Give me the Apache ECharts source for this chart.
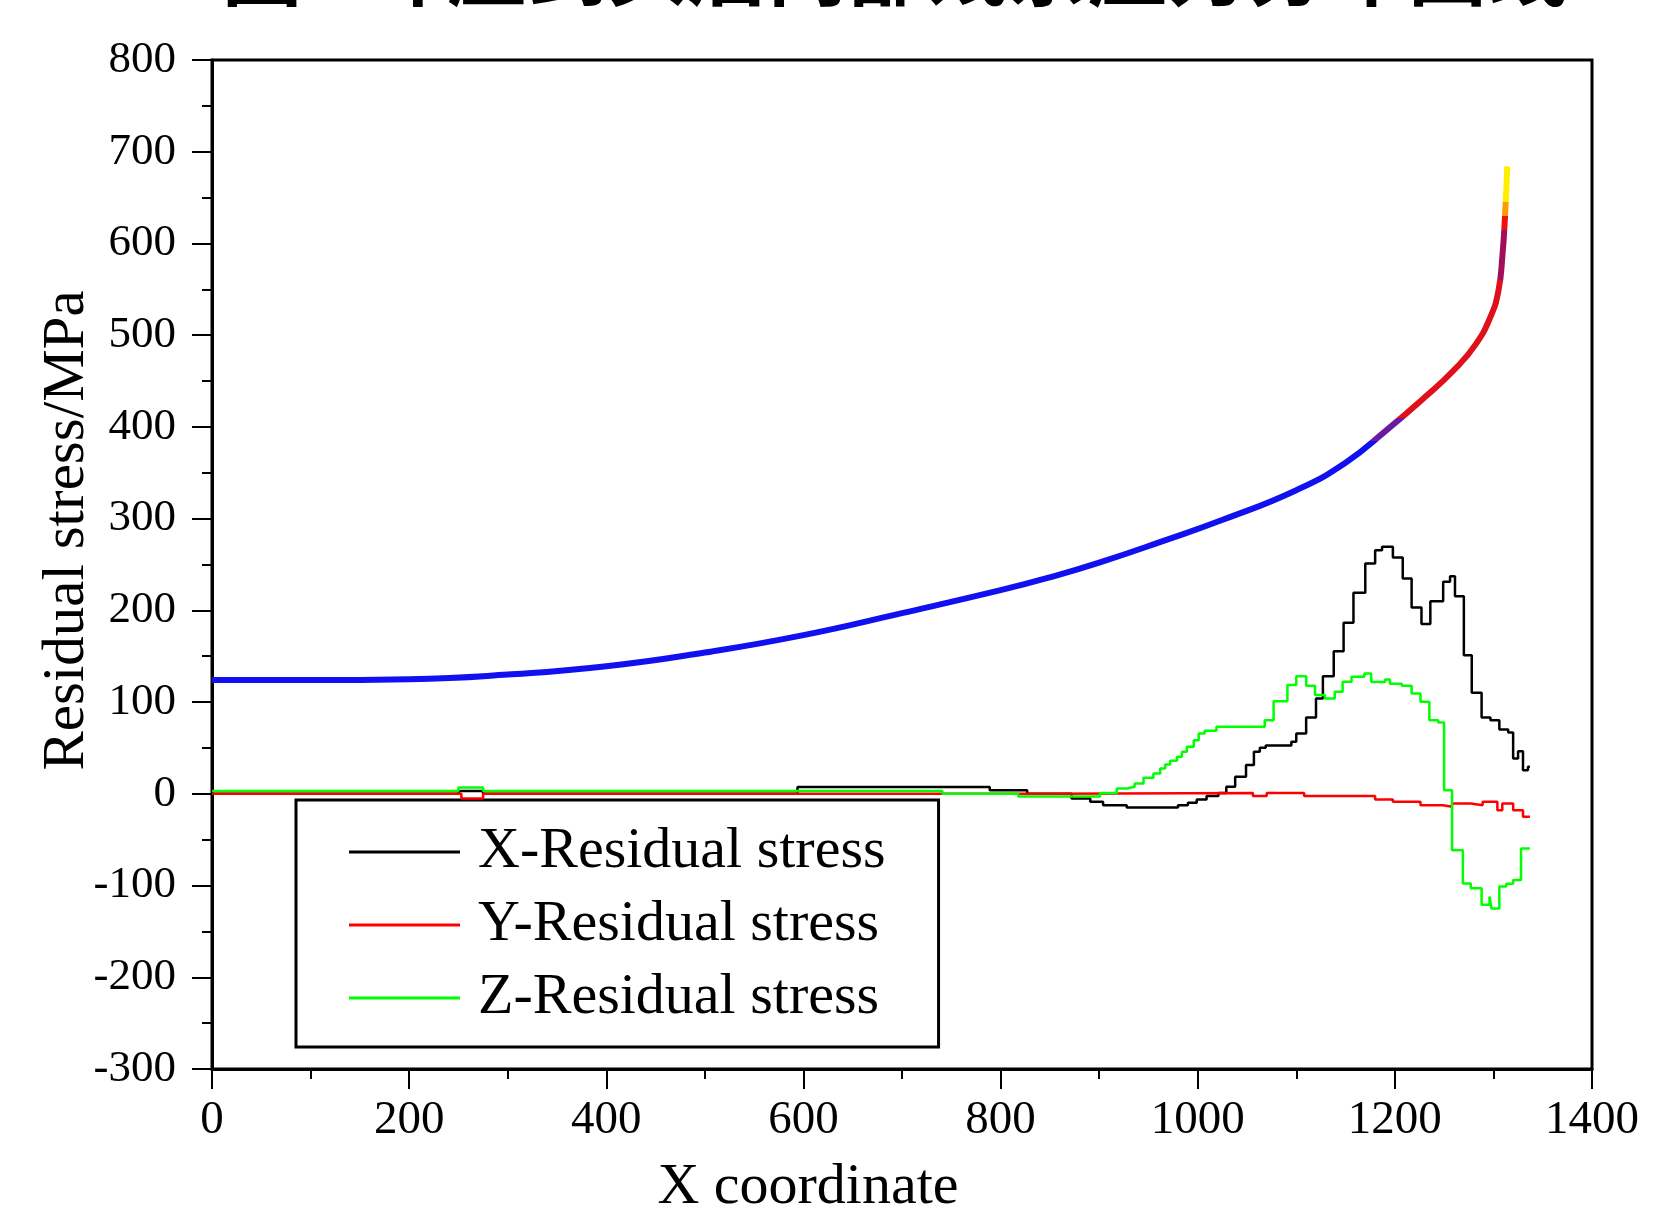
<!DOCTYPE html>
<html>
<head>
<meta charset="utf-8">
<script src="https://cdn.jsdelivr.net/npm/echarts@6/dist/echarts.min.js"></script>
<style>
html,body{margin:0;padding:0;background:#fff;}
#chart{width:1657px;height:1216px;}
</style>
</head>
<body>
<div id="chart"></div>
<script>
// ---- data ----
const titleText = '图1 冲压到头后内部残余应力分布曲线';
const xTicks = [0, 200, 400, 600, 800, 1000, 1200, 1400];
const yTicks = [-300, -200, -100, 0, 100, 200, 300, 400, 500, 600, 700, 800];
const seriesNames = ['X-Residual stress', 'Y-Residual stress', 'Z-Residual stress'];

// smooth colored curve (no legend entry)
const curveX = [0, 100, 200, 300, 400, 500, 600, 700, 800, 850, 900, 966, 1026, 1100, 1150, 1191, 1230, 1260, 1282, 1297, 1305, 1309, 1312, 1314];
const curveY = [124, 124, 125, 130, 139, 154, 173, 197, 222, 236, 252, 276, 299, 331, 361, 396, 432, 462, 490, 520, 548, 585, 635, 684];

// X-Residual stress (step)
const xResX = [0, 250, 275, 594, 789, 827, 872, 891, 904, 928, 980, 990, 999, 1009, 1021, 1029, 1038, 1049, 1057, 1063, 1069, 1095, 1100, 1110, 1120, 1127, 1138, 1148, 1158, 1170, 1180, 1187, 1198, 1208, 1217, 1227, 1236, 1249, 1256, 1261, 1270, 1278, 1288, 1297, 1306, 1315, 1320, 1325, 1330, 1335, 1337];
const xResY = [0, 3, 0, 7.5, 4, 0, -5, -8.7, -12.4, -15, -12.4, -9.8, -6.2, -2.5, 1, 7.6, 18.5, 31.3, 45.8, 50.1, 52.7, 56.7, 65.8, 83.2, 103.9, 128.3, 155.5, 186.4, 219.1, 251.1, 265.6, 269.3, 257.6, 234.7, 203.1, 185, 210, 231.1, 237.3, 215.5, 151.2, 110.1, 83.2, 80.3, 70.1, 66.9, 38.5, 46.5, 25.8, 29.4, 29.4];

// Y-Residual stress (step)
const yResX = [0, 253, 275, 850, 1056, 1070, 1108, 1180, 1198, 1226, 1249, 1258, 1277, 1289, 1304, 1309, 1320, 1330, 1337];
const yResY = [0, -5, 0, 1, -2.5, 1, -2.5, -6.2, -8.7, -12.4, -14.2, -10.5, -12.4, -8.7, -17.8, -10.5, -17.8, -25, -25];

// Z-Residual stress (step)
const zResX = [0, 250, 275, 741, 818, 901, 918, 928, 936, 945, 955, 962, 967, 972, 979, 984, 989, 996, 1001, 1007, 1019, 1068, 1077, 1091, 1100, 1110, 1119, 1129, 1139, 1147, 1156, 1169, 1176, 1190, 1195, 1207, 1217, 1226, 1235, 1244, 1250, 1258, 1269, 1277, 1288, 1296, 1298, 1306, 1313, 1320, 1328, 1337];
const zResY = [3, 7, 3, 0, -3, 1, 5.8, 7.6, 11.3, 17.4, 22.2, 27.6, 32, 36, 40.3, 45.8, 51.2, 58.5, 65.8, 68.7, 73, 80.3, 101, 118.5, 128.3, 117.7, 107.6, 103.9, 111.2, 122.1, 127.5, 131.2, 122, 124.6, 120, 117.7, 109.4, 100.3, 80.3, 77.8, 4, -61.4, -97.7, -103, -121, -112, -125, -101, -98, -94, -59.6, -59.6];

const zip = (xs, ys) => xs.map((x, i) => [x, ys[i]]);

const serif = 'Liberation Serif';
const chart = echarts.init(document.getElementById('chart'));
chart.setOption({
  animation: false,
  backgroundColor: '#fff',
  title: {
    text: titleText,
    left: 217,
    top: -76,
    textStyle: { fontFamily: 'Noto Sans CJK SC', fontWeight: 'bold', fontSize: 80, color: '#000' }
  },
  grid: {
    left: 212, right: 65, top: 60, bottom: 147,
    show: true, borderColor: '#000', borderWidth: 3, backgroundColor: 'transparent',
    outerBoundsMode: 'none', containLabel: false
  },
  xAxis: {
    type: 'value', min: 0, max: 1400, interval: 200,
    name: 'X coordinate', nameLocation: 'middle', nameGap: 90,
    nameTextStyle: { fontFamily: serif, fontSize: 58, color: '#000', padding: [0, 188, 0, 0] },
    axisLine: { onZero: false, lineStyle: { color: '#000', width: 3 } },
    axisTick: { show: true, inside: false, length: 20, lineStyle: { color: '#000', width: 2 } },
    minorTick: { show: true, splitNumber: 2, length: 10, lineStyle: { color: '#000', width: 2 } },
    axisLabel: { fontFamily: serif, fontSize: 47, color: '#000', margin: 28,
      formatter: v => xTicks.includes(v) ? String(v) : '' },
    splitLine: { show: false }
  },
  yAxis: {
    type: 'value', min: -300, max: 800, interval: 100,
    name: 'Residual stress/MPa', nameLocation: 'middle', nameGap: 115, nameRotate: 90,
    nameMoveOverlap: false,
    nameTextStyle: { fontFamily: serif, fontSize: 59, color: '#000', padding: [0, 0, 0, 68] },
    axisLine: { onZero: false, lineStyle: { color: '#000', width: 3 } },
    axisTick: { show: true, inside: false, length: 20, lineStyle: { color: '#000', width: 2 } },
    minorTick: { show: true, splitNumber: 2, length: 10, lineStyle: { color: '#000', width: 2 } },
    axisLabel: { fontFamily: serif, fontSize: 45, color: '#000', margin: 36,
      formatter: v => yTicks.includes(v) ? String(v) : '' },
    splitLine: { show: false }
  },
  legend: {
    data: seriesNames,
    orient: 'vertical',
    left: 296, top: 800,
    padding: [22, 53, 19, 53],
    itemGap: 13,
    itemWidth: 111, itemHeight: 3,
    icon: 'rect',
    borderColor: '#000', borderWidth: 3,
    backgroundColor: '#fff',
    textStyle: { fontFamily: serif, fontSize: 58, color: '#000', lineHeight: 60, padding: [0, 0, 0, 13] }
  },
  visualMap: {
    show: false,
    type: 'piecewise',
    seriesIndex: 0,
    dimension: 1,
    pieces: [
      { lt: 385, color: '#1010f0' },
      { gte: 385, lt: 410, color: '#6a1aa0' },
      { gte: 410, lt: 560, color: '#e0101a' },
      { gte: 560, lt: 615, color: '#a0105a' },
      { gte: 615, lt: 630, color: '#f01010' },
      { gte: 630, lt: 645, color: '#ff9a00' },
      { gte: 645, color: '#ffee00' }
    ]
  },
  series: [
    { name: 'curve', type: 'line', data: zip(curveX, curveY), smooth: true, showSymbol: false,
      lineStyle: { width: 6 }, z: 3 },
    { name: seriesNames[0], type: 'line', step: 'end', data: zip(xResX, xResY), showSymbol: false,
      color: '#000', lineStyle: { color: '#000', width: 2.5 }, z: 4 },
    { name: seriesNames[1], type: 'line', step: 'end', data: zip(yResX, yResY), showSymbol: false,
      color: '#ff0000', lineStyle: { color: '#ff0000', width: 2.5 }, z: 4 },
    { name: seriesNames[2], type: 'line', step: 'end', data: zip(zResX, zResY), showSymbol: false,
      color: '#00ff00', lineStyle: { color: '#00ff00', width: 2.5 }, z: 4 }
  ]
});
</script>
</body>
</html>
